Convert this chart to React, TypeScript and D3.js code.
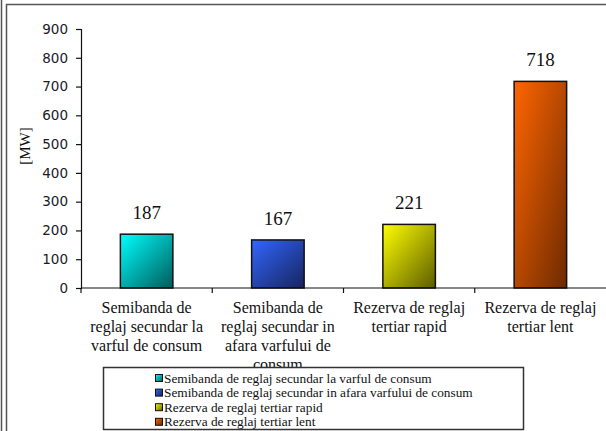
import { useRef, useEffect } from 'react';
import * as d3 from 'd3';

const W = 606;
const H = 431;

// ─── Data ─────────────────────────────────────────────────────────────────────
const CATEGORIES = [
  ['Semibanda de', 'reglaj secundar la', 'varful de consum'],
  ['Semibanda de', 'reglaj secundar in', 'afara varfului de', 'consum'],
  ['Rezerva de reglaj', 'tertiar rapid'],
  ['Rezerva de reglaj', 'tertiar lent'],
];
const VALUES = [187, 167, 221, 718];
const LEGEND_LABELS = [
  'Semibanda de reglaj secundar la varful de consum',
  'Semibanda de reglaj secundar in afara varfului de consum',
  'Rezerva de reglaj tertiar rapid',
  'Rezerva de reglaj tertiar lent',
];
const Y_TICKS = [0, 100, 200, 300, 400, 500, 600, 700, 800, 900];
const COLORS = [
  ['#00ffff', '#005a5a'],
  ['#3366ff', '#16245e'],
  ['#ffff00', '#5c5c00'],
  ['#ff6600', '#6e2a00'],
];

export default function App() {
  const ref = useRef<SVGSVGElement>(null);

  useEffect(() => {
    const svg = d3.select(ref.current);
    svg.selectAll('*').remove();
    svg.attr('viewBox', `0 0 ${W} ${H}`);

    const serif = '"Liberation Serif", "Times New Roman", serif';
    const keys = CATEGORIES.map((_, i) => String(i));

    const x = d3.scaleBand().domain(keys).range([81, 606]).paddingInner(0.6).paddingOuter(0.3);
    const y = d3.scaleLinear().domain([0, 900]).range([288, 29]);

    // Gradients
    const defs = svg.append('defs');
    COLORS.forEach(([c0, c1], i) => {
      const gr = defs.append('linearGradient').attr('id', `g${i}`)
        .attr('x1', '0').attr('y1', '0').attr('x2', '1').attr('y2', '1');
      gr.append('stop').attr('offset', '0%').attr('stop-color', c0);
      gr.append('stop').attr('offset', '100%').attr('stop-color', c1);
    });

    svg.append('rect').attr('width', W).attr('height', H).attr('fill', '#fff');

    // Frame
    svg.append('line').attr('x1', 1.5).attr('x2', 1.5).attr('y1', 0).attr('y2', H)
      .attr('stroke', '#555').attr('stroke-width', 1.5);
    svg.append('path').attr('d', `M6.5,${H} V4.5 H${W}`)
      .attr('fill', 'none').attr('stroke', '#555').attr('stroke-width', 1.5);

    // Bars
    svg.append('g').selectAll('rect').data(VALUES).join('rect')
      .attr('x', (_, i) => x(keys[i])!)
      .attr('y', d => y(d))
      .attr('width', x.bandwidth())
      .attr('height', d => y(0) - y(d))
      .attr('fill', (_, i) => `url(#g${i})`)
      .attr('stroke', '#111').attr('stroke-width', 1.5);

    // Value labels
    svg.append('g').selectAll('text').data(VALUES).join('text')
      .attr('x', (_, i) => x(keys[i])! + x.bandwidth() / 2)
      .attr('y', d => y(d) - 15)
      .attr('text-anchor', 'middle')
      .attr('font-family', serif).attr('font-size', 19).attr('fill', '#111')
      .text(d => d);

    // Y axis
    svg.append('g').attr('transform', 'translate(81,0)')
      .call(d3.axisLeft(y).tickValues(Y_TICKS).tickSize(5).tickPadding(8))
      .call(g => g.select('.domain').attr('stroke', '#111').attr('stroke-width', 1.2))
      .call(g => g.selectAll('.tick line').attr('stroke', '#111').attr('stroke-width', 1.2))
      .selectAll('text')
      .attr('font-family', '"DejaVu Sans", sans-serif').attr('font-size', 13.5).attr('fill', '#1a1a2a');

    // X axis
    const bounds = keys.map(k => x(k)! - (x.step() - x.bandwidth()) / 2);
    svg.append('line').attr('x1', 81).attr('x2', 606).attr('y1', y(0)).attr('y2', y(0))
      .attr('stroke', '#111').attr('stroke-width', 1.2);
    svg.append('g').selectAll('line').data(bounds).join('line')
      .attr('x1', d => d).attr('x2', d => d)
      .attr('y1', y(0)).attr('y2', y(0) + 5)
      .attr('stroke', '#111').attr('stroke-width', 1.2);

    // Category labels
    const cat = svg.append('g').selectAll('text').data(CATEGORIES).join('text')
      .attr('text-anchor', 'middle')
      .attr('font-family', serif).attr('font-size', 16).attr('fill', '#111');
    cat.each(function (lines, i) {
      d3.select(this).selectAll('tspan').data(lines).join('tspan')
        .attr('x', x(keys[i])! + x.bandwidth() / 2)
        .attr('y', (_, j) => 313 + j * 19)
        .text(d => d);
    });

    // Y title
    svg.append('text')
      .attr('transform', 'translate(30,146) rotate(-90)')
      .attr('text-anchor', 'middle')
      .attr('font-family', serif).attr('font-size', 15).attr('fill', '#111')
      .text('[MW]');

    // Legend
    const lg = svg.append('g');
    lg.append('rect').attr('x', 103.5).attr('y', 367.5).attr('width', 420).attr('height', 62)
      .attr('fill', '#fff').attr('stroke', '#333').attr('stroke-width', 1.5);
    const items = lg.selectAll('g.item').data(LEGEND_LABELS).join('g').attr('class', 'item')
      .attr('transform', (_, i) => `translate(155,${378 + i * 14.6})`);
    items.append('rect').attr('x', 0.5).attr('y', -3.5).attr('width', 7).attr('height', 7)
      .attr('fill', (_, i) => `url(#g${i})`).attr('stroke', '#111').attr('stroke-width', 1);
    items.append('text').attr('x', 9).attr('dy', '0.35em')
      .attr('font-family', serif).attr('font-size', 13.3).attr('fill', '#111')
      .text(d => d);
  }, []);

  return (
    <svg ref={ref} width={W} height={H} style={{ position: 'absolute', left: 0, top: 0 }} />
  );
}
